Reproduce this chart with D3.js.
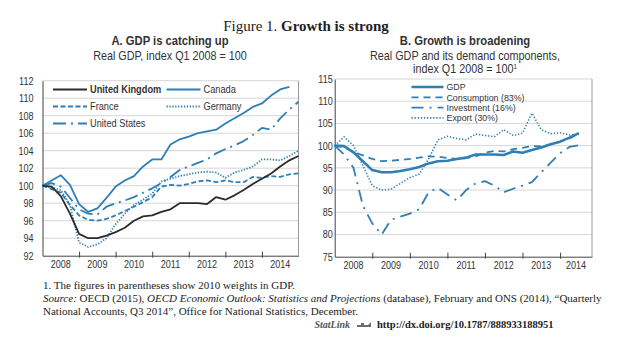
<!DOCTYPE html>
<html>
<head>
<meta charset="utf-8">
<script src="https://cdn.jsdelivr.net/npm/d3@7"></script>
<style>
  body { margin: 0; background: #fff; }
  .chart text { font-family: "Liberation Sans", Arial, sans-serif; fill: #333; }
</style>
</head>
<body>
<div id="figure"></div>
<script>
// year labels on both x axes
var years = ["2008", "2009", "2010", "2011", "2012", "2013", "2014"];

// panel A: real GDP, index Q1 2008 = 100, quarterly from Q1 2008
var ukGdp = [100, 99.9, 98.8, 96.8, 94.5, 94.0, 94.0, 94.3, 94.7, 95.2, 96.0, 96.5, 96.6, 97.0, 97.3,
             98.0, 98.0, 98.0, 97.9, 98.7, 98.4, 98.9, 99.5, 100.2, 100.8, 101.4, 102.2, 102.9, 103.4];
var canadaGdp = [100, 100.6, 101.2, 100.1, 97.9, 97.0, 97.4, 98.6, 99.9, 100.6, 101.1, 102.2, 103.0, 103.0,
                 104.7, 105.3, 105.6, 106.0, 106.2, 106.4, 107.1, 107.7, 108.3, 109.0, 109.4, 110.3, 111.0, 111.3];
var franceGdp = [100, 99.6, 99.2, 97.8, 96.6, 96.1, 96.0, 96.2, 96.6, 97.1, 97.6, 98.1, 98.7, 99.9, 100.1,
                 100.0, 100.2, 100.5, 100.6, 100.4, 100.6, 100.4, 100.4, 101.0, 100.9, 101.1, 101.0, 101.3, 101.4];
var germanyGdp = [100, 99.8, 99.5, 97.8, 93.5, 93.0, 93.3, 94.0, 95.6, 96.8, 97.8, 98.4, 99.1, 100.5, 100.8,
                  101.1, 101.3, 101.5, 101.6, 101.5, 100.9, 101.5, 101.8, 102.2, 103.0, 103.0, 102.9, 103.4, 104.0];
var usGdp = [100, 100.3, 99.9, 98.6, 97.3, 96.8, 96.7, 97.6, 98.0, 98.3, 98.7, 99.2, 99.7, 100.3, 101.0,
             101.8, 102.2, 102.6, 103.0, 103.7, 104.2, 104.6, 105.1, 105.8, 106.6, 106.4, 107.7, 108.7, 109.6];

// panel B: UK GDP and demand components, index Q1 2008 = 100
var gdp = [100, 99.9, 98.5, 96.5, 94.5, 94.0, 94.0, 94.3, 94.7, 95.2, 96.0, 96.5, 96.6, 97.0,
           97.3, 98.0, 98.0, 98.0, 97.9, 98.7, 98.4, 99.0, 99.6, 100.3, 100.9, 101.8, 102.8];
var consumption = [100, 99.6, 98.6, 97.8, 97.0, 96.5, 96.6, 96.8, 97.0, 97.3, 97.6, 97.5, 97.2, 97.0,
                   97.2, 97.6, 98.4, 98.8, 98.7, 99.2, 99.5, 99.9, 99.8, 100.3, 100.9, 101.6, 102.8];
var investment = [100, 98.0, 95.0, 86.5, 82.5, 80.0, 83.3, 84.0, 84.7, 85.7, 89.5, 90.5, 89.0, 87.7,
                  90.0, 91.5, 92.0, 91.0, 89.5, 90.3, 91.0, 91.8, 94.0, 96.2, 98.3, 99.7, 100.1];
var exports = [100, 102.0, 100.0, 95.5, 91.0, 90.0, 90.2, 91.5, 92.8, 93.6, 97.0, 101.3, 102.1, 101.6,
               101.3, 102.6, 102.3, 102.0, 103.6, 102.3, 102.8, 107.3, 103.6, 102.7, 102.9, 102.4, 102.5];

var blue = "#2f7fb5",
    dark = "#2b2b2b",
    serif = '"Liberation Serif", "DejaVu Serif", serif';

var panelA = [
  { name: "United Kingdom", values: ukGdp, color: dark, dash: null, width: 1.8, bold: true },
  { name: "Canada", values: canadaGdp, color: blue, dash: null, width: 1.8 },
  { name: "France", values: franceGdp, color: blue, dash: "5,2.5", width: 1.8 },
  { name: "Germany", values: germanyGdp, color: blue, dash: "1.3,1.6", width: 1.8 },
  { name: "United States", values: usGdp, color: blue, dash: "13,5,2,5", width: 1.8 }
];

var panelB = [
  { name: "GDP", values: gdp, color: blue, dash: null, width: 2.6 },
  { name: "Consumption (83%)", values: consumption, color: blue, dash: "7,5", width: 1.8 },
  { name: "Investment (16%)", values: investment, color: blue, dash: "12,6,2,6", width: 1.8 },
  { name: "Export (30%)", values: exports, color: blue, dash: "1.3,1.8", width: 1.6 }
];

var svg = d3.select("#figure").append("svg")
    .attr("width", 620).attr("height", 346);

// squeeze text horizontally to get the narrow sans look
var narrow = function(sel, s) {
  sel.each(function() {
    var t = d3.select(this);
    var x = +t.attr("x") || 0, y = +t.attr("y") || 0;
    t.attr("x", 0).attr("y", 0)
     .attr("transform", "translate(" + x + "," + y + ") scale(" + s + ",1)");
  });
};

var drawPanel = function(cfg) {
  var g = svg.append("g").attr("class", "chart");

  var x = d3.scaleLinear().domain([0, cfg.xMax]).range([cfg.left, cfg.right]);
  var y = d3.scaleLinear().domain(cfg.yDomain).range([cfg.bottom, cfg.top]);
  var yTicks = d3.range(cfg.yDomain[0], cfg.yDomain[1] + 0.01, cfg.yStep);

  // horizontal gridlines
  g.append("g").selectAll("line").data(yTicks.slice(1)).enter().append("line")
    .attr("x1", cfg.left).attr("x2", cfg.right)
    .attr("y1", function(d) { return y(d); }).attr("y2", function(d) { return y(d); })
    .attr("stroke", "#d6d6d6").attr("stroke-width", 1);

  // right frame line
  g.append("line")
    .attr("x1", cfg.right).attr("x2", cfg.right)
    .attr("y1", cfg.top).attr("y2", cfg.bottom)
    .attr("stroke", "#9a9a9a").attr("stroke-width", 1);

  // y axis
  var yAxis = d3.axisLeft(y).tickValues(yTicks).tickSize(0).tickPadding(cfg.yPad);
  var ya = g.append("g").attr("transform", "translate(" + cfg.left + ",0)").call(yAxis);
  ya.select(".domain").attr("stroke", "#444");
  ya.selectAll("text").attr("font-size", 10.5).attr("fill", "#333")
    .style("font-family", '"Liberation Sans", Arial, sans-serif');
  narrow(ya.selectAll("text"), 0.86);

  // x axis: ticks at year boundaries, labels centred in each year
  var bounds = d3.range(4, cfg.xMax, 4);
  var xAxis = d3.axisBottom(x).tickValues(bounds).tickSizeInner(-4).tickSizeOuter(0).tickFormat("");
  var xa = g.append("g").attr("transform", "translate(0," + cfg.bottom + ")").call(xAxis);
  xa.select(".domain").attr("stroke", "#444");
  xa.selectAll(".tick line").attr("stroke", "#444").attr("y1", 2);

  var xl = g.append("g").selectAll("text").data(years).enter().append("text")
    .attr("x", function(d, i) { return x((i * 4 + Math.min(i * 4 + 4, cfg.xMax)) / 2); })
    .attr("y", cfg.bottom + 12)
    .attr("text-anchor", "middle")
    .attr("font-size", 10.5)
    .text(function(d) { return d; });
  narrow(xl, 0.86);

  // series
  var line = d3.line()
    .x(function(d, i) { return x(i); })
    .y(function(d) { return y(d); });

  // draw UK / GDP last so it sits on top
  var order = cfg.series.slice(1).concat(cfg.series.slice(0, 1));
  g.append("g").selectAll("path").data(order).enter().append("path")
    .attr("d", function(d) { return line(d.values); })
    .attr("fill", "none")
    .attr("stroke", function(d) { return d.color; })
    .attr("stroke-width", function(d) { return d.width; })
    .attr("stroke-dasharray", function(d) { return d.dash; })
    .attr("stroke-linejoin", "round");

  // legend
  var leg = g.append("g").selectAll("g").data(cfg.series).enter().append("g")
    .attr("transform", function(d, i) { return "translate(" + cfg.legendPos(i)[0] + "," + cfg.legendPos(i)[1] + ")"; });
  leg.append("line")
    .attr("x1", 0).attr("x2", cfg.legendLen)
    .attr("stroke", function(d) { return d.color; })
    .attr("stroke-width", function(d) { return d.width; })
    .attr("stroke-dasharray", function(d) { return d.dash; });
  var lt = leg.append("text")
    .attr("x", cfg.legendLen + 3).attr("dy", "0.35em")
    .attr("font-size", cfg.legendFont)
    .attr("font-weight", function(d) { return d.bold ? "bold" : null; })
    .text(function(d) { return d.name; });
  narrow(lt, cfg.legendSqueeze);

  // titles
  var tt = g.append("text").attr("x", cfg.titleX).attr("y", 45)
    .attr("text-anchor", "middle").attr("font-size", 12.5).attr("font-weight", "bold")
    .attr("fill", "#222")
    .text(cfg.title);
  narrow(tt, 0.9);
  cfg.subtitle.forEach(function(s, i) {
    var t = g.append("text").attr("x", cfg.titleX).attr("y", 60 + i * 12.5)
      .attr("text-anchor", "middle").attr("font-size", 12)
      .text(s);
    if (cfg.note && i === cfg.subtitle.length - 1) {
      t.append("tspan").attr("font-size", 7).attr("dy", -4).text(cfg.note);
    }
    narrow(t, 0.9);
  });
};

drawPanel({
  left: 42.5, right: 298.5, top: 80.7, bottom: 255.7,
  xMax: 28, yDomain: [92, 112], yStep: 2, yPad: 9,
  series: panelA,
  legendLen: 34, legendFont: 11, legendSqueeze: 0.84,
  legendPos: function(i) {
    var pos = [[53, 89.5], [166.5, 89.5], [53, 106.5], [166.5, 106.5], [53, 123.5]];
    return pos[i];
  },
  titleX: 170,
  title: "A. GDP is catching up",
  subtitle: ["Real GDP, index Q1 2008 = 100"]
});

drawPanel({
  left: 334.7, right: 592, top: 79, bottom: 256.7,
  xMax: 27.4, yDomain: [75, 115], yStep: 5, yPad: 2,
  series: panelB,
  legendLen: 32, legendFont: 9.3, legendSqueeze: 0.95,
  legendPos: function(i) { return [411.5, 87 + i * 10.3]; },
  titleX: 465,
  title: "B. Growth is broadening",
  subtitle: ["Real GDP and its demand components,", "index Q1 2008 = 100"],
  note: "1"
});

// figure title
var head = svg.append("text")
  .attr("x", 306).attr("y", 31).attr("text-anchor", "middle")
  .attr("font-size", 15).attr("fill", "#222")
  .style("font-family", serif);
head.append("tspan").text("Figure 1.  ");
head.append("tspan").attr("font-weight", "bold").text("Growth is strong");

// footnotes
var notes = svg.append("g")
  .style("font-family", serif)
  .attr("font-size", 11).attr("fill", "#222");

notes.append("text").attr("x", 43).attr("y", 289)
  .text("1.   The figures in parentheses show 2010 weights in GDP.");

var src = notes.append("text").attr("x", 43).attr("y", 302);
src.append("tspan").attr("font-style", "italic").text("Source:");
src.append("tspan").text("  OECD (2015), ");
src.append("tspan").attr("font-style", "italic").text("OECD Economic Outlook: Statistics and Projections");
src.append("tspan").text(" (database), February and ONS (2014), \u201cQuarterly");

notes.append("text").attr("x", 43).attr("y", 314.5)
  .text("National Accounts, Q3 2014\u201d, Office for National Statistics, December.");

var link = notes.append("g");
link.append("text").attr("x", 350).attr("y", 328).attr("text-anchor", "end")
  .attr("font-weight", "bold").attr("font-style", "italic").attr("fill", "#555")
  .attr("font-size", 10)
  .text("StatLink");
link.append("path")
  .attr("d", "M357,325 h4 v-2 h3 v2 h4 l3,-3 v5 h-14 z")
  .attr("fill", "#6d6d6d");
link.append("text").attr("x", 377).attr("y", 328)
  .attr("font-weight", "bold").attr("font-size", 10.5)
  .text("http://dx.doi.org/10.1787/888933188951");
</script>
</body>
</html>
